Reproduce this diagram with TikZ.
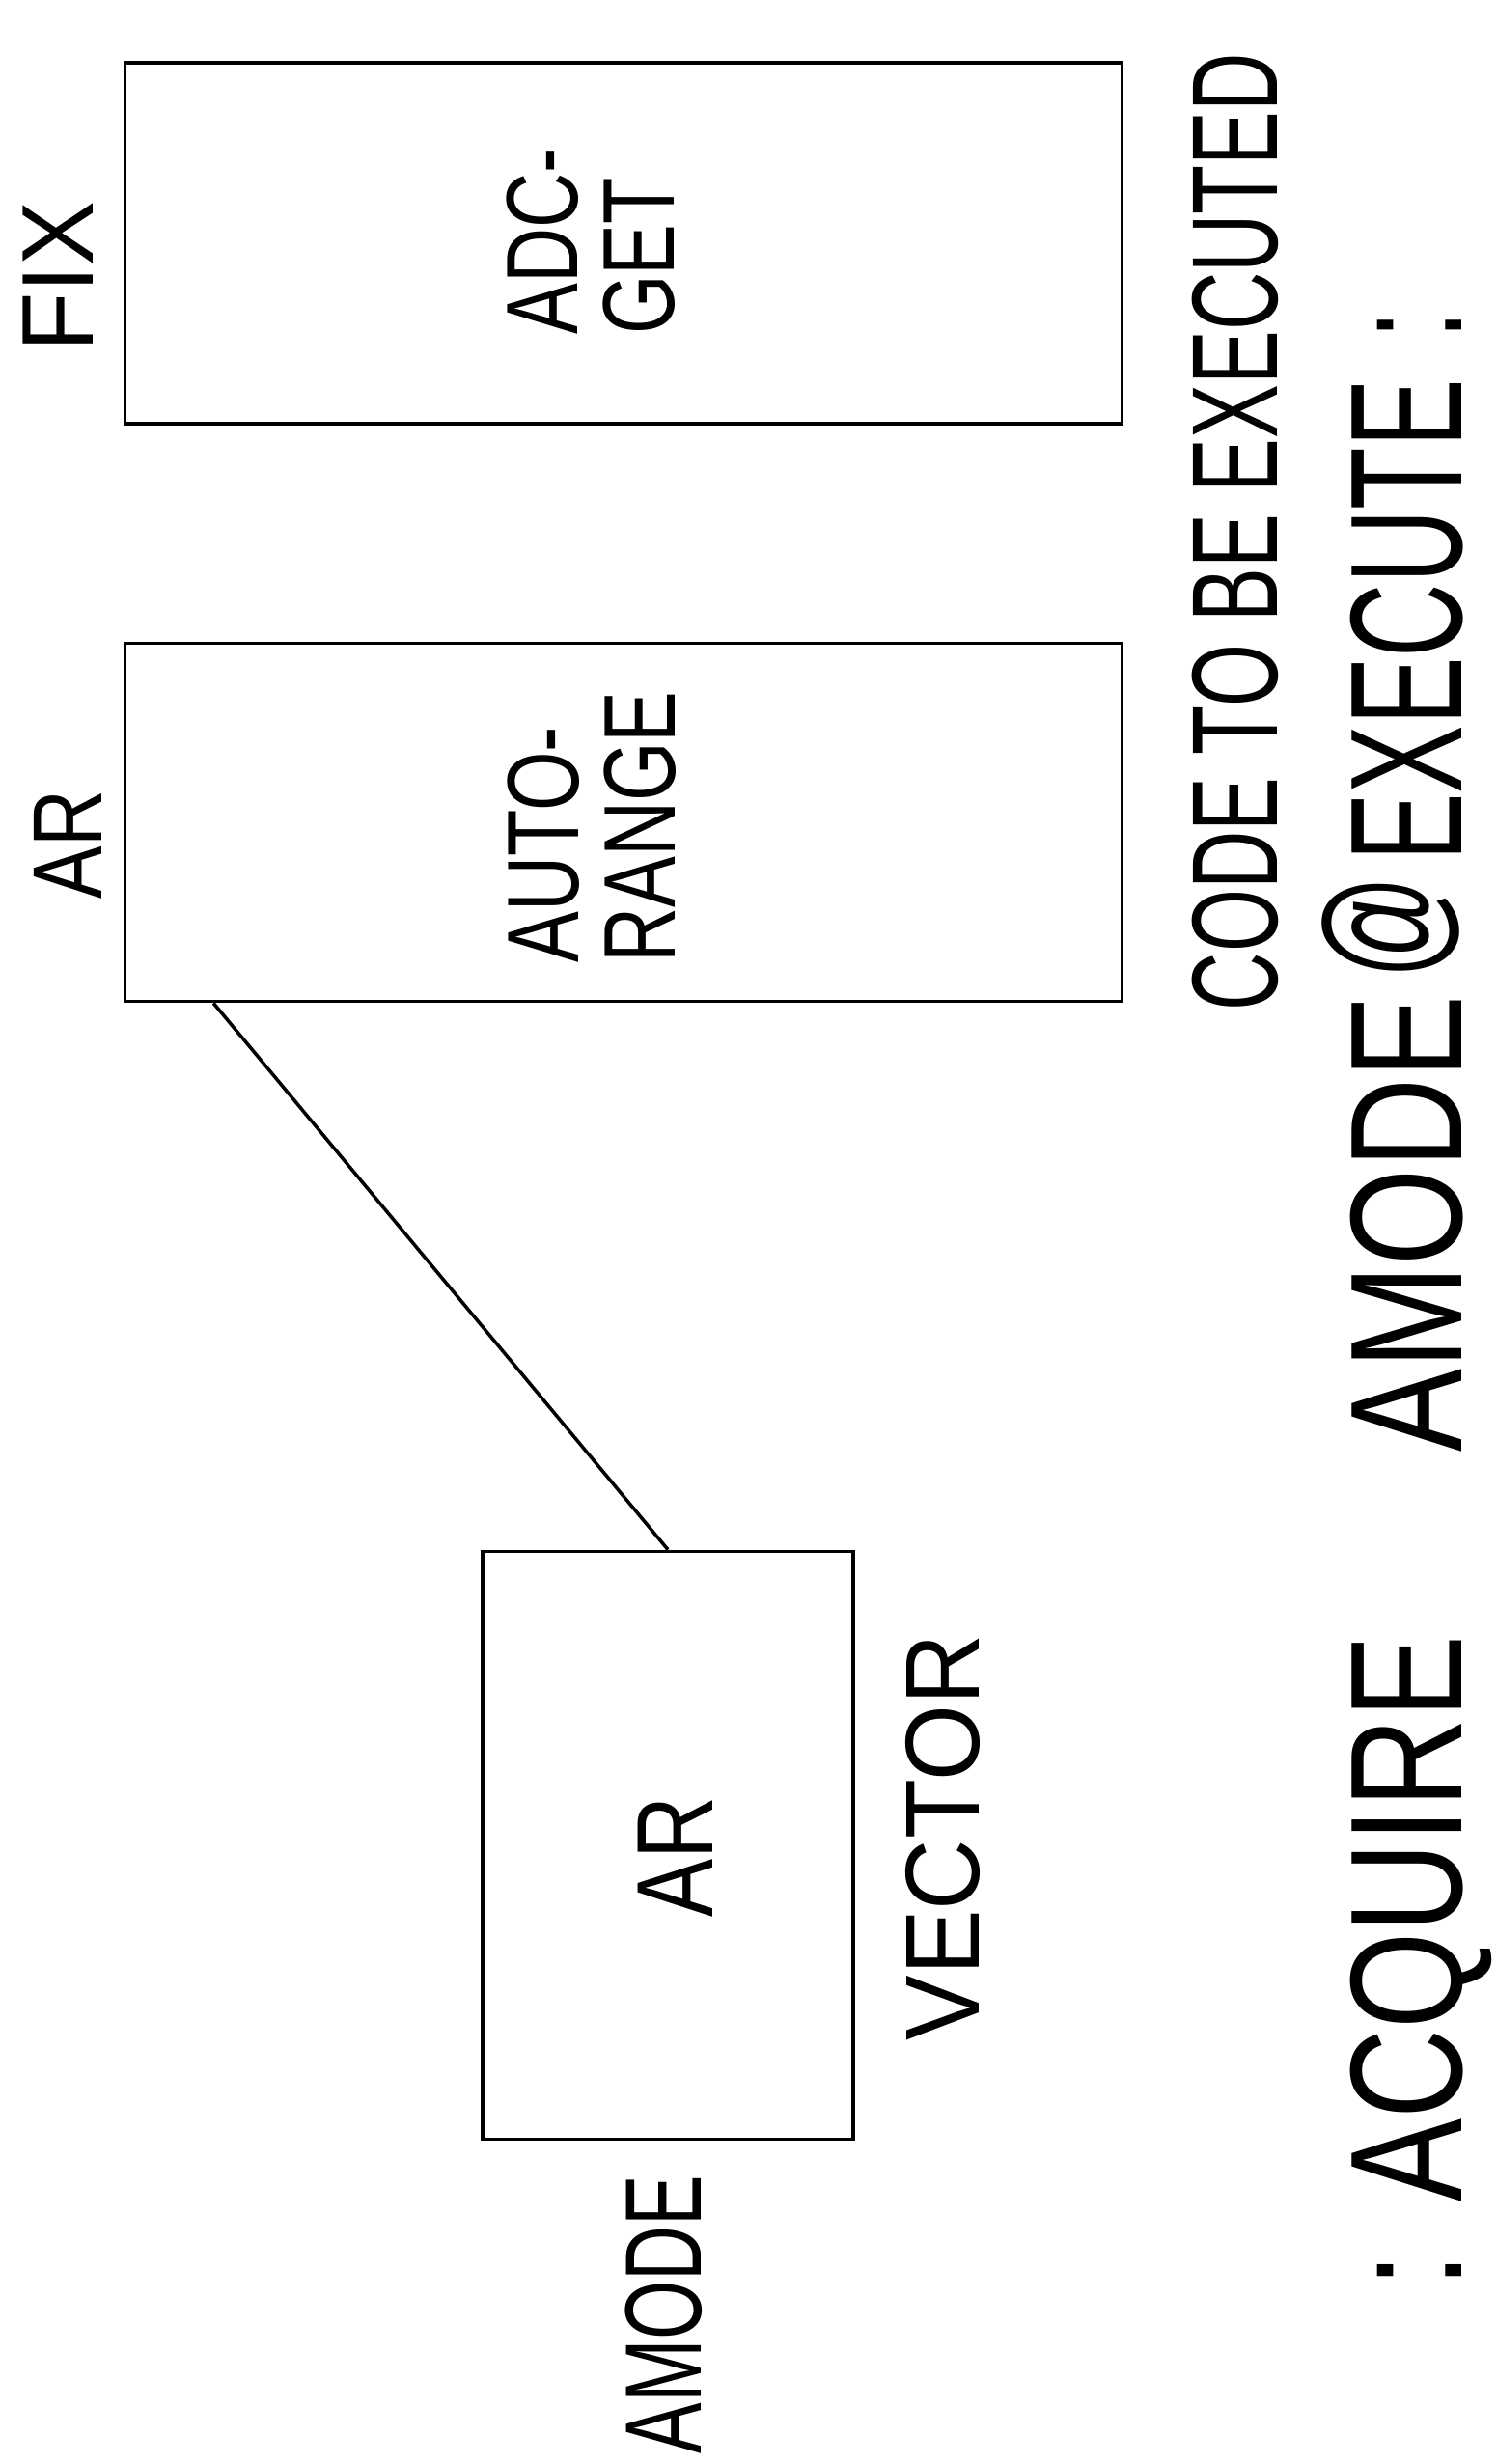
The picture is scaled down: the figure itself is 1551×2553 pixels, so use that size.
\documentclass[tikz,border=0pt]{standalone}
\usepackage{fontspec}
\setmainfont{Liberation Sans}
\usetikzlibrary{positioning,calc}
\newcommand\lettering[3]{\fontsize{#1}{#2}\selectfont\addfontfeatures{FakeStretch=#3}}

\begin{document}
\begin{tikzpicture}[
  x=0.01cm, y=-0.01cm,
  box/.style={draw, line width=1pt, inner sep=0pt},
  txt/.style={rotate=90, inner sep=0pt, align=left},
  wire/.style={line width=1pt}]
\useasboundingbox (0,0) rectangle (1551,2553);
\node[box, minimum width=10.32cm, minimum height=3.74cm] (fix) at (646,252) {};
\node[box, minimum width=10.32cm, minimum height=3.71cm] (autorange) at (646,852) {};
\node[box, minimum width=3.84cm, minimum height=6.09cm] (vec) at (692,1912) {};
\node[txt, font=\lettering{30pt}{30pt}{0.95}] (fixlbl) at (60,287) {FIX};
\node[txt, font=\lettering{29pt}{30pt}{0.8}] (arlbl) at (70,875) {AR};
\node[txt, font=\lettering{30pt}{28.5pt}{0.75}] (adcget) at (612,250) {ADC-\\GET};
\node[txt, font=\lettering{30pt}{28.5pt}{0.75}] (autotxt) at (613,857) {AUTO-\\RANGE};
\node[txt, font=\lettering{36pt}{40pt}{0.66}] (code) at (1280,551) {CODE TO BE EXECUTED};
\node[txt, font=\lettering{32pt}{36pt}{0.8}] (artxt) at (700,1924) {AR};
\node[txt, font=\lettering{31pt}{36pt}{0.93}] (vectxt) at (977,1904) {VECTOR};
\node[txt, font=\lettering{32pt}{36pt}{0.7}] (amode) at (688,2398) {AMODE};
\node[txt, anchor=base west, font=\fontsize{47pt}{50pt}\selectfont] (title) at (1514,2371)
  {{\addfontfeatures{FakeStretch=0.78}:\hspace{15pt}ACQUIRE\hspace{54pt}AMODE\hspace{5pt}}%
   {\addfontfeatures{FakeStretch=0.64}\raisebox{7pt}{@}\hspace{4pt}EXECUTE\hspace{12pt}:}};
\draw[wire] ($(autorange.south west)!0.09!(autorange.south east)$) -- (vec.north);
\end{tikzpicture}
\end{document}
